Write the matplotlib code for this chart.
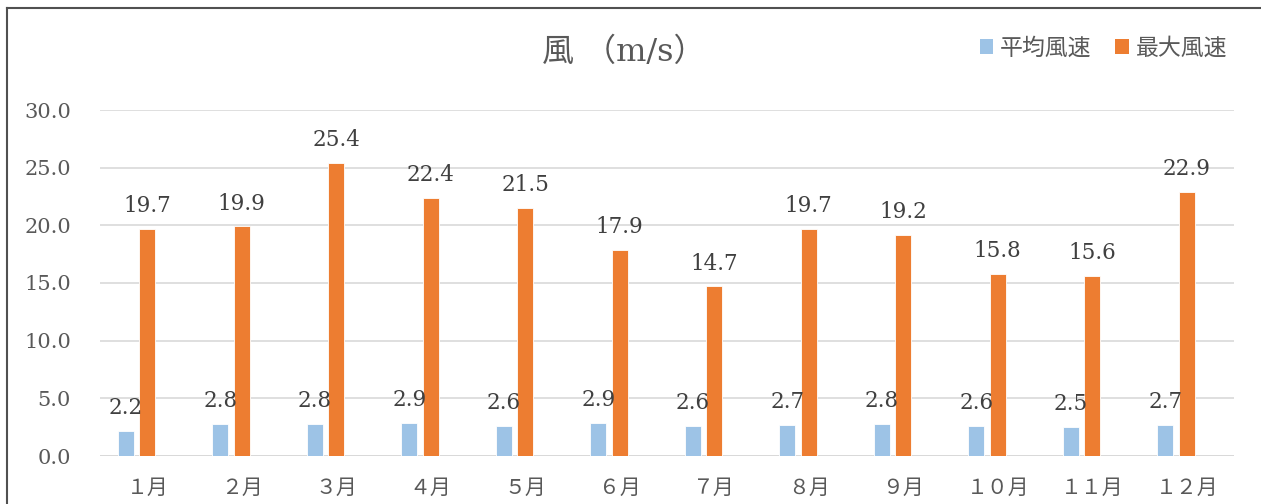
import matplotlib
matplotlib.use("Agg")
import matplotlib.pyplot as plt
from matplotlib.lines import Line2D
from matplotlib.patches import Patch
import numpy as np

months = ["１月", "２月", "３月", "４月", "５月", "６月", "７月", "８月", "９月", "１０月", "１１月", "１２月"]
avg_wind = [2.2, 2.8, 2.8, 2.9, 2.6, 2.9, 2.6, 2.7, 2.8, 2.6, 2.5, 2.7]
max_wind = [19.7, 19.9, 25.4, 22.4, 21.5, 17.9, 14.7, 19.7, 19.2, 15.8, 15.6, 22.9]
series_names = ["平均風速", "最大風速"]
yticks = [0, 5, 10, 15, 20, 25, 30]

BLUE = "#9DC3E6"
ORANGE = "#ED7D31"
GRID = "#D9D9D9"
TXT = "#595959"
LBL = "#404040"
SERIF = ["DejaVu Serif"]
CJK = ["Noto Sans CJK JP", "DejaVu Sans"]

W, H = 1261, 504
fig = plt.figure(figsize=(W / 100, H / 100), dpi=100)
fig.patch.set_facecolor("white")

ax = fig.add_axes([100 / W, (H - 456) / H, 1134 / W, (456 - 110) / H])
x = np.arange(len(months))
bw = 0.169
off = 0.2275
b1 = ax.bar(x - off, avg_wind, width=bw, color=BLUE, edgecolor="white", linewidth=0.6, zorder=3)
b2 = ax.bar(x, max_wind, width=bw, color=ORANGE, edgecolor="white", linewidth=0.6, zorder=3)

for bars, vals in ((b1, avg_wind), (b2, max_wind)):
    for r, v in zip(bars, vals):
        ax.annotate(f"{v:.1f}", (r.get_x() + r.get_width() / 2, v),
                    xytext=(0, 12), textcoords="offset points",
                    ha="center", va="baseline", fontsize=15.5,
                    family=SERIF, color=LBL, zorder=4)

ax.set_xlim(-0.5, len(months) - 0.5)
ax.set_ylim(0, 30)
ax.set_yticks(yticks)
ax.set_yticklabels([f"{t:.1f}" for t in yticks], family=SERIF, fontsize=15, color=TXT)
ax.set_xticks(x)
ax.set_xticklabels(months, family=CJK, fontsize=15, color=TXT)
ax.tick_params(axis="y", length=0, pad=21)
ax.tick_params(axis="x", length=0, pad=15)
ax.grid(axis="y", color=GRID, linewidth=1.2, zorder=0)
for s in ax.spines.values():
    s.set_visible(False)
ax.axhline(0, color=GRID, linewidth=1.4, zorder=2)

fig.text(624 / W, 1 - 52 / H, "風 （m/s）", ha="center", va="center",
         fontsize=23, color=TXT, family=["DejaVu Serif", "Noto Sans CJK JP"])

handles = [Patch(facecolor=BLUE, edgecolor="none"), Patch(facecolor=ORANGE, edgecolor="none")]
leg = fig.legend(handles, series_names, loc="center right",
                 bbox_to_anchor=(1227 / W, 1 - 48 / H), ncol=2, frameon=False,
                 prop={"family": CJK, "size": 16.5}, handlelength=0.58, handleheight=0.58,
                 handletextpad=0.3, columnspacing=1.05, borderpad=0, borderaxespad=0)
for t in leg.get_texts():
    t.set_color(TXT)

# outer chart border (extends past right and bottom edges)
fig.add_artist(Line2D([7 / W, 7 / W], [1 - 8 / H, -0.05], color="#505050", linewidth=1.5, transform=fig.transFigure))
fig.add_artist(Line2D([7 / W, 1.05], [1 - 8 / H, 1 - 8 / H], color="#505050", linewidth=1.5, transform=fig.transFigure))

fig.savefig("out.png", dpi=100, facecolor="white")
